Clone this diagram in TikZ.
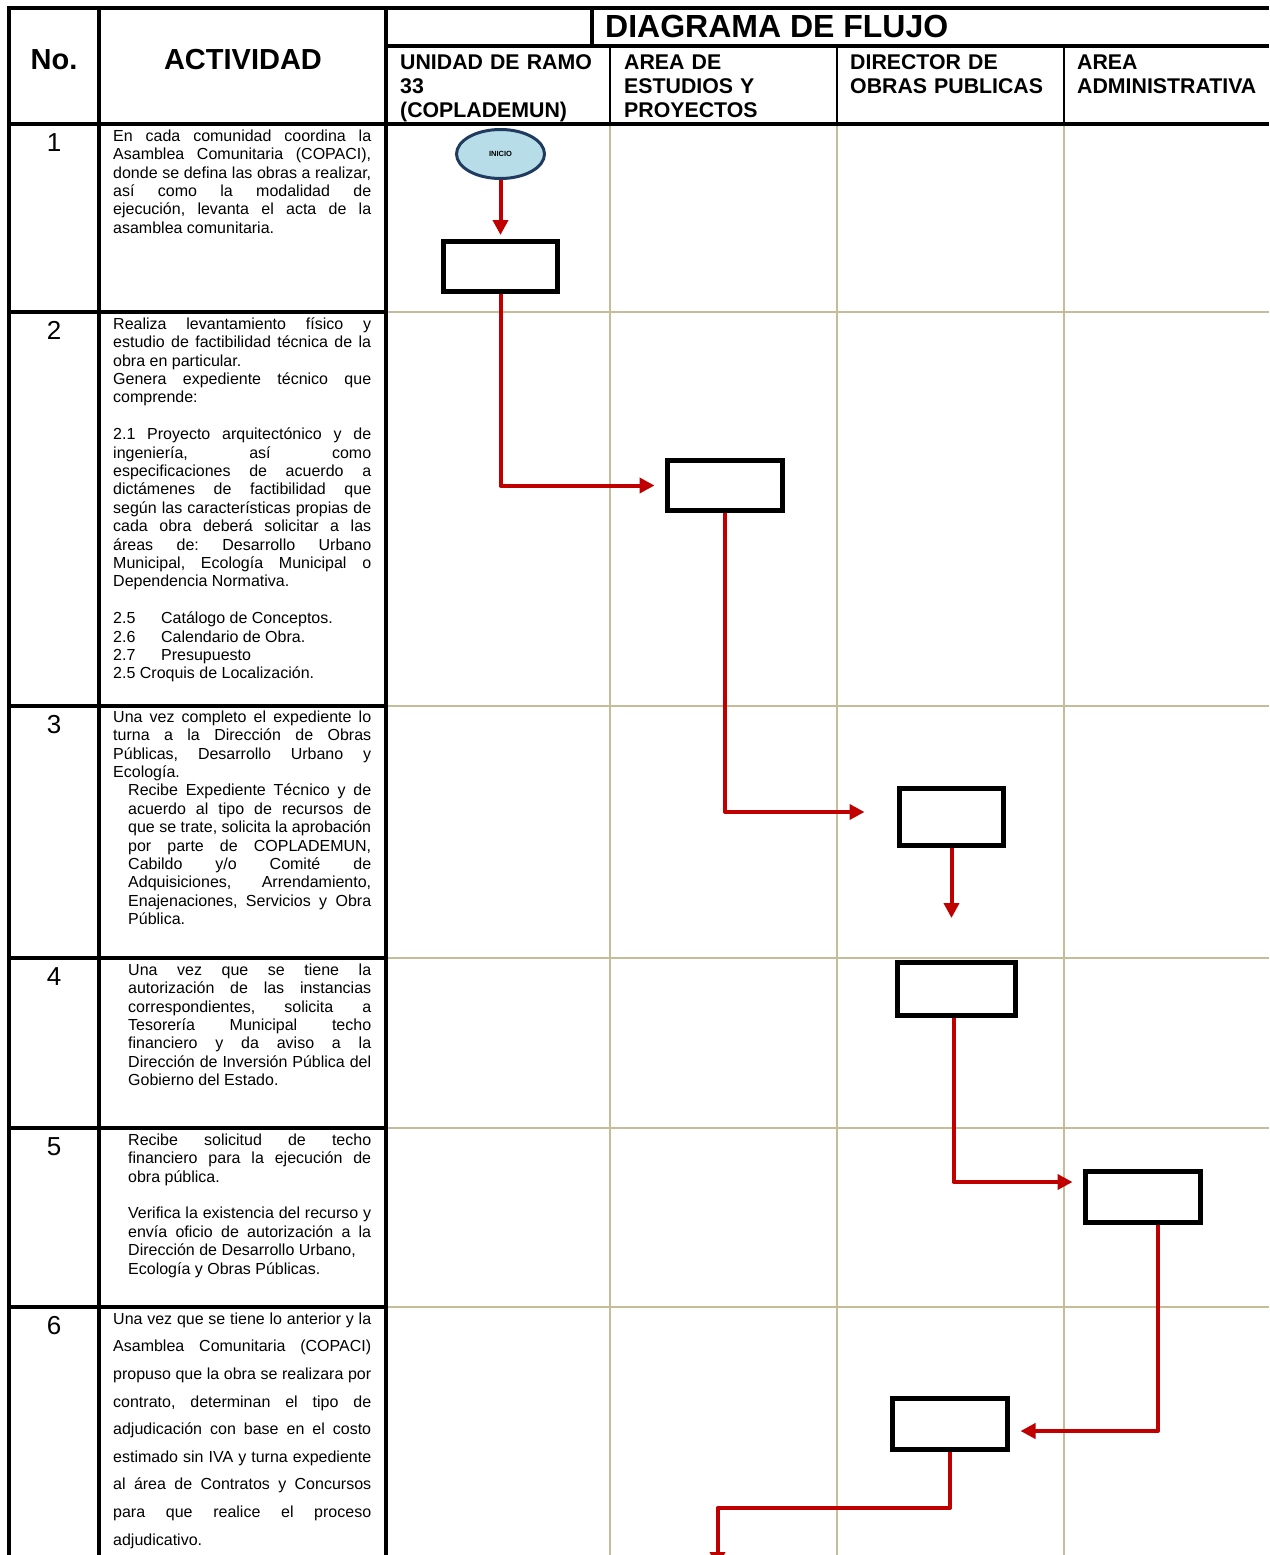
\documentclass[tikz,border=0pt]{standalone}
\usepackage{fontspec}
\setmainfont{Liberation Sans}
\usetikzlibrary{arrows.meta,shapes.geometric}
\definecolor{flowred}{HTML}{C00000}
\definecolor{tanline}{HTML}{C4BD97}
\definecolor{inifill}{HTML}{B7DEE8}
\definecolor{iniedge}{HTML}{1F3B5F}
\setlength\parindent{0pt}
\frenchspacing
\newcommand\myJL[1]{\makebox[258pt][s]{\frenchspacing\spaceskip=0pt\xspaceskip=0pt #1}}
\newcommand\myIJ[1]{\hspace*{15pt}\makebox[243pt][s]{\frenchspacing\spaceskip=0pt\xspaceskip=0pt #1}}
\newcommand\myIL[1]{\hspace*{15pt}{\frenchspacing\spaceskip=0pt\xspaceskip=0pt #1}}
\newcommand\myTB[1]{\makebox[48pt][l]{#1}}
\tikzset{
  blk/.style={line width=4pt, draw=black},
  thinblk/.style={line width=2.5pt, draw=black},
  tanl/.style={line width=2pt, draw=tanline},
  bodytxt/.style={anchor=north west, inner sep=0pt, text width=258pt, align=left,
    font=\fontsize{16}{18.4}\selectfont},
  widetxt/.style={bodytxt, font=\fontsize{16}{27.6}\selectfont},
  numtxt/.style={anchor=base, inner sep=0pt, font=\fontsize{26}{30}\selectfont},
  bighdr/.style={anchor=base, inner sep=0pt, font=\fontsize{29}{34}\selectfont\bfseries},
  lanehdr/.style={anchor=north west, inner sep=0pt, text width=215pt, align=left,
    font=\fontsize{21.3}{24}\selectfont\bfseries},
  flowbox/.style={draw=black, line width=5pt, fill=white, inner sep=0pt},
  ini/.style={ellipse, draw=iniedge, fill=inifill, line width=3pt, inner sep=0pt,
    minimum width=88pt, minimum height=49pt, font=\fontsize{7.5}{9}\selectfont\bfseries},
  flowarr/.style={draw=flowred, line width=4pt, line join=round,
    -{Triangle[length=15pt,width=15pt]}}
}
\begin{document}
\begin{tikzpicture}[x=1pt,y=-1pt]
\useasboundingbox (0,0) rectangle (1269,1555);
\fill[white] (0,0) rectangle (1269,1555);

% tan grid in the lanes
\foreach \yy in {312,706,958,1128,1307}{\draw[tanl] (386,\yy) -- (1269,\yy);}
\foreach \xx in {610,837,1064}{\draw[tanl] (\xx,124) -- (\xx,1555);}

% black table lines
\draw[blk] (9,1555) -- (9,8) -- (1269,8);
\draw[blk] (99,8) -- (99,1555);
\draw[blk] (386,8) -- (386,1555);
\draw[blk] (386,46) -- (1269,46);
\draw[blk] (592,8) -- (592,46);
\draw[blk] (9,124) -- (1269,124);
\foreach \xx in {610,837,1064}{\draw[thinblk] (\xx,46) -- (\xx,124);}
\foreach \yy in {312,706,958,1128,1307}{\draw[blk] (9,\yy) -- (386,\yy);}

% headers
\node[bighdr] (hno) at (54,70) {No.};
\node[bighdr] (hact) at (243,70) {ACTIVIDAD};
\node[anchor=base west, inner sep=0pt, font=\fontsize{32}{36}\selectfont\bfseries] (hdf) at (605,38) {DIAGRAMA DE FLUJO};
\node[lanehdr] (l1) at (400,52.8) {\strut UNIDAD DE RAMO\\33\\(COPLADEMUN)};
\node[lanehdr] (l2) at (624,52.8) {\strut AREA DE\\ESTUDIOS Y\\PROYECTOS};
\node[lanehdr] (l3) at (850,52.8) {\strut DIRECTOR DE\\OBRAS PUBLICAS};
\node[lanehdr] (l4) at (1077,52.8) {\strut AREA\\ADMINISTRATIVA};

% row numbers
\node[numtxt] (n1) at (54,151.6) {1};
\node[numtxt] (n2) at (54,339.6) {2};
\node[numtxt] (n3) at (54,733.6) {3};
\node[numtxt] (n4) at (54,985.6) {4};
\node[numtxt] (n5) at (54,1155.6) {5};
\node[numtxt] (n6) at (54,1334.6) {6};

% activity texts
\node[bodytxt] (t1) at (113,128.12) {\strut\myJL{En cada comunidad coordina la}\\
\myJL{Asamblea Comunitaria (COPACI),}\\
\myJL{donde se defina las obras a realizar,}\\
\myJL{así como la modalidad de}\\
\myJL{ejecución, levanta el acta de la}\\
\myIL{\hspace*{-15pt}asamblea comunitaria.}};

\node[bodytxt] (t2) at (113,316.12) {\strut\myJL{Realiza levantamiento físico y}\\
\myJL{estudio de factibilidad técnica de la}\\
\myIL{\hspace*{-15pt}obra en particular.}\\
\myJL{Genera expediente técnico que}\\
comprende:\\[18.4pt]
\myJL{2.1 Proyecto arquitectónico y de}\\
\myJL{ingeniería, así como}\\
\myJL{especificaciones de acuerdo a}\\
\myJL{dictámenes de factibilidad que}\\
\myJL{según las características propias de}\\
\myJL{cada obra deberá solicitar a las}\\
\myJL{áreas de: Desarrollo Urbano}\\
\myJL{Municipal, Ecología Municipal o}\\
\myIL{\hspace*{-15pt}Dependencia Normativa.}\\[18.4pt]
\myTB{2.5}\myIL{\hspace*{-15pt}Catálogo de Conceptos.}\\
\myTB{2.6}\myIL{\hspace*{-15pt}Calendario de Obra.}\\
\myTB{2.7}Presupuesto\\
\myIL{\hspace*{-15pt}2.5 Croquis de Localización.}};

\node[bodytxt] (t3) at (113,709.12) {\strut\myJL{Una vez completo el expediente lo}\\
\myJL{turna a la Dirección de Obras}\\
\myJL{Públicas, Desarrollo Urbano y}\\
Ecología.\\
\myIJ{Recibe Expediente Técnico y de}\\
\myIJ{acuerdo al tipo de recursos de}\\
\myIJ{que se trate, solicita la aprobación}\\
\myIJ{por parte de COPLADEMUN,}\\
\myIJ{Cabildo y/o Comité de}\\
\myIJ{Adquisiciones, Arrendamiento,}\\
\myIJ{Enajenaciones, Servicios y Obra}\\
\myIL{Pública.}};

\node[bodytxt] (t4) at (113,962.12) {\strut\myIJ{Una vez que se tiene la}\\
\myIJ{autorización de las instancias}\\
\myIJ{correspondientes, solicita a}\\
\myIJ{Tesorería Municipal techo}\\
\myIJ{financiero y da aviso a la}\\
\myIJ{Dirección de Inversión Pública del}\\
\myIL{Gobierno del Estado.}};

\node[bodytxt] (t5) at (113,1132.12) {\strut\myIJ{Recibe solicitud de techo}\\
\myIJ{financiero para la ejecución de}\\
\myIL{obra pública.}\\[18.4pt]
\myIJ{Verifica la existencia del recurso y}\\
\myIJ{envía oficio de autorización a la}\\
\myIL{Dirección de Desarrollo Urbano,}\\
\myIL{Ecología y Obras Públicas.}};

\node[widetxt] (t6) at (113,1304.68) {\strut\myJL{Una vez que se tiene lo anterior y la}\\
\myJL{Asamblea Comunitaria (COPACI)}\\
\myJL{propuso que la obra se realizara por}\\
\myJL{contrato, determinan el tipo de}\\
\myJL{adjudicación con base en el costo}\\
\myJL{estimado sin IVA y turna expediente}\\
\myJL{al área de Contratos y Concursos}\\
\myJL{para que realice el proceso}\\
adjudicativo.};

% flow elements
\node[ini] (inicio) at (500.5,154) {INICIO};
\node[flowbox, minimum width=114pt, minimum height=50pt] (b1) at (500.5,266.5) {};
\node[flowbox, minimum width=115pt, minimum height=50pt] (b2) at (725,485.5) {};
\node[flowbox, minimum width=104pt, minimum height=57pt] (b3) at (951.5,817) {};
\node[flowbox, minimum width=118pt, minimum height=53pt] (b4) at (956.5,989) {};
\node[flowbox, minimum width=115pt, minimum height=51pt] (b5) at (1143,1197) {};
\node[flowbox, minimum width=115pt, minimum height=51pt] (b6) at (950,1424) {};

\coordinate (e3) at (951.5,918);
\coordinate (k6) at (717.5,1508);
\coordinate (e6) at (717.5,1567);

\draw[flowarr, shorten >=4pt] (inicio.south) -- (b1.north);
\draw[flowarr] (b1.south) |- ([xshift=-10.5pt]b2.west);
\draw[flowarr] (b2.south) |- ([xshift=-32.5pt,yshift=5pt]b3.west);
\draw[flowarr] (b3.south) -- (e3);
\draw[flowarr] ([xshift=-3pt]b4.south) |- ([xshift=-10.5pt,yshift=15pt]b5.west);
\draw[flowarr] ([xshift=15pt]b5.south) |- ([xshift=10.5pt,yshift=-7pt]b6.east);
\draw[flowarr] (b6.south) |- (k6) -- (e6);
\end{tikzpicture}
\end{document}
